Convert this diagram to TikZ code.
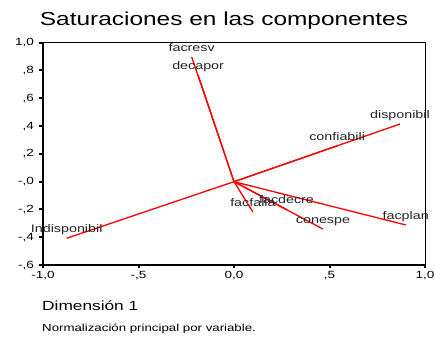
\documentclass[tikz,border=0pt]{standalone}
\usepackage{fontspec}
\setmainfont{Liberation Sans}
\newfontfamily\wfont{Liberation Sans}[FakeStretch=1.3]
\begin{document}
\begin{tikzpicture}[x=1pt,y=1pt,
  vec/.style={red, line width=1.3pt},
  lbl/.style={inner sep=0pt, anchor=base, yshift=5.5pt, font=\wfont\fontsize{11}{13}\selectfont, text=black!85},
  ytl/.style={inner sep=0pt, anchor=east, xshift=-9pt, font=\wfont\fontsize{10.4}{12}\selectfont},
  xtl/.style={inner sep=0pt, anchor=center, yshift=-10pt, font=\wfont\fontsize{10.4}{12}\selectfont},
  tick/.style={line width=2pt, black}]
\useasboundingbox (0,0) rectangle (435,337);
\node[inner sep=0pt, anchor=base, font=\wfont\fontsize{18.8}{22}\selectfont] (title) at (224,311.5) {Saturaciones en las componentes};
\node[inner sep=0pt, anchor=base west, font=\wfont\fontsize{13.3}{16}\selectfont] (xlab) at (42,27) {Dimensión 1};
\node[inner sep=0pt, anchor=base west, font=\wfont\fontsize{10.2}{12}\selectfont] (note) at (42,6) {Normalización principal por variable.};
\begin{scope}[shift={(234,155.3)}, x=191pt, y=139pt]
  % frame
  \draw[line width=1pt] (-1,1) -- (1,1) -- (1,-0.6);
  \draw[line width=1.3pt] (-1,-0.6) -- (1,-0.6);
  \draw[line width=2pt] (-1,1) -- (-1,-0.62);
  % y ticks
  \foreach \v/\t in {1/{1,0},0.8/{,8},0.6/{,6},0.4/{,4},0.2/{,2},0/{-,0},-0.2/{-,2},-0.4/{-,4},-0.6/{-,6}}{
    \draw[tick] ([xshift=-4pt]-1,\v) -- (-1,\v);
    \node[ytl] at (-1,\v) {\t};
  }
  % x ticks
  \foreach \v/\t in {-1/{-1,0},-0.5/{-,5},0/{0,0},0.5/{,5},1/{1,0}}{
    \draw[tick] (\v,-0.6) -- ([yshift=-3pt]\v,-0.6);
    \node[xtl] at (\v,-0.6) {\t};
  }
  % vectors
  \coordinate (o) at (0,0);
  \coordinate (facresv) at (-0.2215,0.897);
  \coordinate (decapor) at (-0.188,0.768);
  \coordinate (disponibil) at (0.869,0.415);
  \coordinate (confiabili) at (0.54,0.258);
  \coordinate (indisp) at (-0.876,-0.407);
  \coordinate (facfalla) at (0.099,-0.218);
  \coordinate (facdecre) at (0.275,-0.2);
  \coordinate (conespe) at (0.466,-0.341);
  \coordinate (facplan) at (0.899,-0.311);
  \foreach \c in {facresv,decapor,disponibil,confiabili,indisp,facfalla,facdecre,conespe,facplan}{
    \draw[vec] (o) -- (\c);
  }
  \node[lbl] (l1) at (facresv) {facresv};
  \node[lbl] (l2) at (decapor) {decapor};
  \node[lbl] (l3) at (disponibil) {disponibil};
  \node[lbl] (l4) at (confiabili) {confiabili};
  \node[lbl] (l5) at (indisp) {Indisponibil};
  \node[lbl] (l6) at (facfalla) {facfalla};
  \node[lbl] (l7) at (facdecre) {facdecre};
  \node[lbl] (l8) at (conespe) {conespe};
  \node[lbl] (l9) at (facplan) {facplan};
\end{scope}
\end{tikzpicture}
\end{document}
